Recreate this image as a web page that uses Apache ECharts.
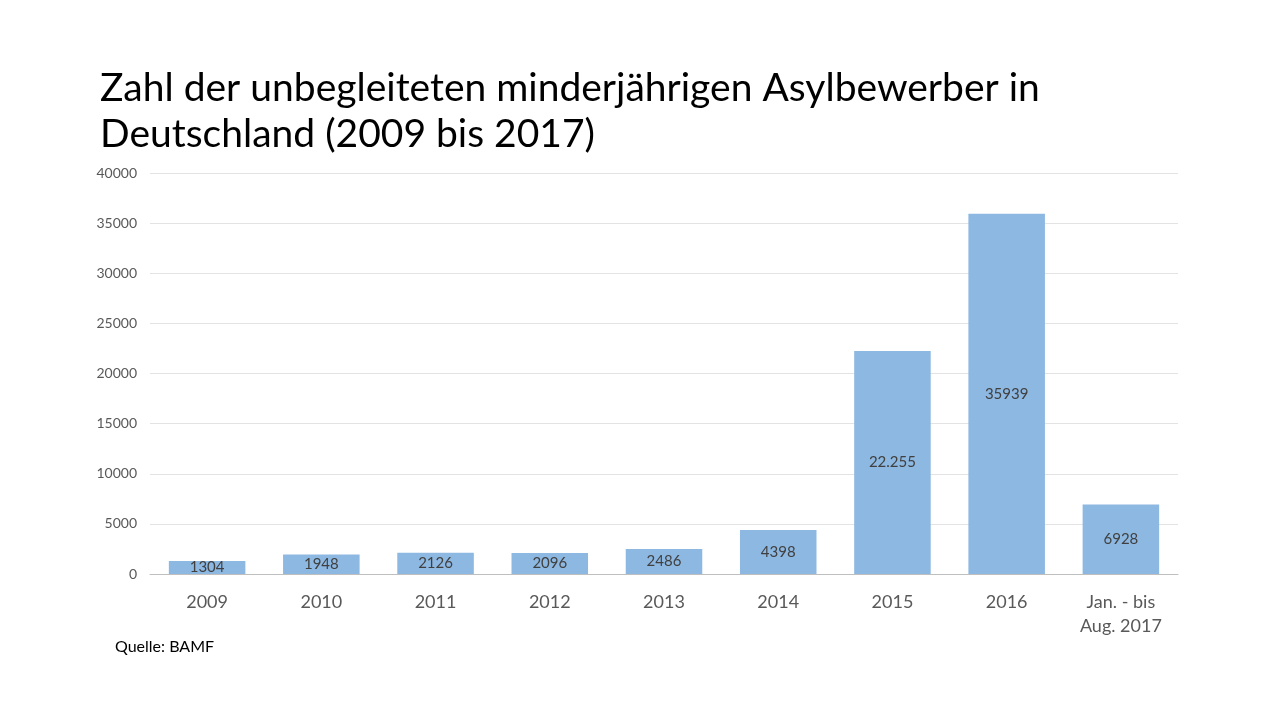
<!DOCTYPE html>
<html><head><meta charset="utf-8">
<script src="https://cdn.jsdelivr.net/npm/echarts@6/dist/echarts.min.js"></script>
<style>html,body{margin:0;padding:0;background:#fff}#c{width:1280px;height:720px}</style>
</head><body><div id="c"></div>
<script>
const categories = ['2009','2010','2011','2012','2013','2014','2015','2016','Jan. - bis\nAug. 2017'];
const values = [1304,1948,2126,2096,2486,4398,22255,35939,6928];
const valueLabels = ['1304','1948','2126','2096','2486','4398','22.255','35939','6928'];
const FONT = 'Lato, "Open Sans", sans-serif';
const chart = echarts.init(document.getElementById('c'));
chart.setOption({
  animation:false,
  backgroundColor:'#fff',
  title:{
    text:'Zahl der unbegleiteten minderjährigen Asylbewerber in\nDeutschland (2009 bis 2017)',
    left:95, top:60,
    textStyle:{fontFamily:FONT, fontSize:39, fontWeight:'normal', color:'#000', lineHeight:46}
  },
  graphic:[{type:'text', left:115, top:639, style:{text:'Quelle: BAMF', font:'16px '+FONT, fill:'#000'}}],
  grid:{left:150, right:102, top:173, bottom:146},
  xAxis:{
    type:'category', data:categories,
    axisLine:{lineStyle:{color:'#bfbfbf'}},
    axisTick:{show:false},
    axisLabel:{fontFamily:FONT, fontSize:18, color:'#595959', margin:16, lineHeight:24, interval:0}
  },
  yAxis:{
    type:'value', min:0, max:40000, interval:5000,
    axisLine:{show:false}, axisTick:{show:false},
    splitLine:{lineStyle:{color:'#e3e3e3'}},
    axisLabel:{fontFamily:FONT, fontSize:14, color:'#595959', margin:13, formatter:v=>String(v)}
  },
  series:[{
    type:'bar', data:values, barCategoryGap:'33%',
    itemStyle:{color:'#8db8e2'},
    label:{show:true, position:'inside', fontFamily:FONT, fontSize:15, color:'#404040',
      formatter:p=>valueLabels[p.dataIndex]}
  }]
});
</script></body></html>
